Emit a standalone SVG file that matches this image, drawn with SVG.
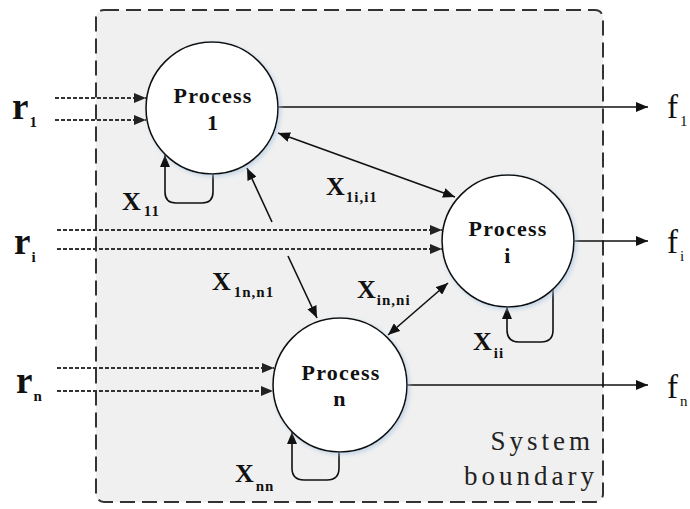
<svg xmlns="http://www.w3.org/2000/svg" width="690" height="509" viewBox="0 0 690 509">
<style>
.bd{fill:#f0f0f0;stroke:#333;stroke-width:2;stroke-dasharray:15 7}
.pc{fill:#fff;stroke:#111;stroke-width:1.6;filter:url(#sh)}
.ln{fill:none;stroke:#111;stroke-width:1.6}
.dt{fill:none;stroke:#333;stroke-width:2;stroke-dasharray:4 2}
.pt{font-family:"Liberation Serif",serif;font-weight:bold;font-size:22px;letter-spacing:1.2px;fill:#111;text-anchor:middle}
.xl{font-family:"Liberation Serif",serif;font-weight:bold;font-size:26px;fill:#111}
.xs{font-size:15px;letter-spacing:1px}
.fl{font-family:"Liberation Serif",serif;font-size:33px;fill:#111}
.fs{font-size:15px}
.rl{font-family:"Liberation Serif",serif;font-weight:bold;font-size:37px;fill:#111}
.rs{font-size:15px}
.sb{font-family:"Liberation Serif",serif;font-size:27px;letter-spacing:4px;fill:#222;text-anchor:end}
</style>
<defs>
<marker id="ah" markerUnits="userSpaceOnUse" markerWidth="13" markerHeight="10" refX="12" refY="5" orient="auto-start-reverse"><path d="M0,0 L12,5 L0,10 z" fill="#111"/></marker>
<marker id="ad" markerUnits="userSpaceOnUse" markerWidth="13" markerHeight="10" refX="12" refY="5" orient="auto"><path d="M0,0 L12,5 L0,10 z" fill="#222"/></marker>
<filter id="sh" x="-20%" y="-20%" width="140%" height="140%"><feDropShadow dx="2" dy="2" stdDeviation="2" flood-color="#a8c4e0" flood-opacity="0.6"/></filter>
</defs>
<g id="boundary">
<rect class="bd" x="96" y="10" width="507" height="492" rx="8"/>
<text class="sb" x="594" y="450">System</text>
<text class="sb" x="598" y="485">boundary</text>
</g>
<g id="connectors">
<path class="dt" d="M55,98 H146" marker-end="url(#ad)"/>
<path class="dt" d="M55,120 H146" marker-end="url(#ad)"/>
<path class="dt" d="M57,230 H442" marker-end="url(#ad)"/>
<path class="dt" d="M57,249 H442" marker-end="url(#ad)"/>
<path class="dt" d="M57,368 H274" marker-end="url(#ad)"/>
<path class="dt" d="M57,391 H273" marker-end="url(#ad)"/>
<path class="ln" d="M278,107 H648" marker-end="url(#ah)"/>
<path class="ln" d="M574,241 H648" marker-end="url(#ah)"/>
<path class="ln" d="M407,385 H648" marker-end="url(#ah)"/>
<path class="ln" d="M278,133 L455,197" marker-start="url(#ah)" marker-end="url(#ah)"/>
<path class="ln" d="M272,222 L247,168" marker-end="url(#ah)"/>
<path class="ln" d="M288,256 L317,318" marker-end="url(#ah)"/>
<path class="ln" d="M448,283 L388,335" marker-start="url(#ah)" marker-end="url(#ah)"/>
<path class="ln" d="M213,174 V192 Q213,203 202,203 H176 Q165,203 165,192 V155" marker-end="url(#ah)"/>
<path class="ln" d="M553,289 V330 Q553,342 541,342 H519 Q507,342 507,330 V307" marker-end="url(#ah)"/>
<path class="ln" d="M339,452 V468 Q339,480 327,480 H304 Q292,480 292,468 V432" marker-end="url(#ah)"/>
</g>
<g id="process1">
<circle class="pc" cx="212" cy="108" r="66"/>
<text class="pt" x="213" y="103">Process</text>
<text class="pt" x="213" y="130">1</text>
</g>
<g id="processi">
<circle class="pc" cx="508" cy="241" r="66"/>
<text class="pt" x="508" y="236">Process</text>
<text class="pt" x="508" y="263">i</text>
</g>
<g id="processn">
<circle class="pc" cx="340" cy="385" r="67"/>
<text class="pt" x="341" y="380">Process</text>
<text class="pt" x="340" y="406">n</text>
</g>
<g id="labels">
<text class="xl" x="122" y="210">X<tspan class="xs" dx="3" dy="6">11</tspan></text>
<text class="xl" x="326" y="195">X<tspan class="xs" dx="1" dy="7">1i,i1</tspan></text>
<text class="xl" x="212" y="290">X<tspan class="xs" dx="3" dy="7">1n,n1</tspan></text>
<text class="xl" x="357" y="298">X<tspan class="xs" dx="1" dy="7">in,ni</tspan></text>
<text class="xl" x="473" y="350">X<tspan class="xs" dx="2" dy="8">ii</tspan></text>
<text class="xl" x="235" y="482">X<tspan class="xs" dx="2" dy="9">nn</tspan></text>
<text class="rl" x="12" y="119">r<tspan class="rs" dx="1" dy="8">1</tspan></text>
<text class="rl" x="14" y="254">r<tspan class="rs" dx="1" dy="8">i</tspan></text>
<text class="rl" x="16" y="393">r<tspan class="rs" dx="1" dy="8">n</tspan></text>
<text class="fl" x="667" y="118">f<tspan class="fs" dx="2" dy="8">1</tspan></text>
<text class="fl" x="667" y="253">f<tspan class="fs" dx="2" dy="8">i</tspan></text>
<text class="fl" x="667" y="398">f<tspan class="fs" dx="2" dy="8">n</tspan></text>
</g>
</svg>
